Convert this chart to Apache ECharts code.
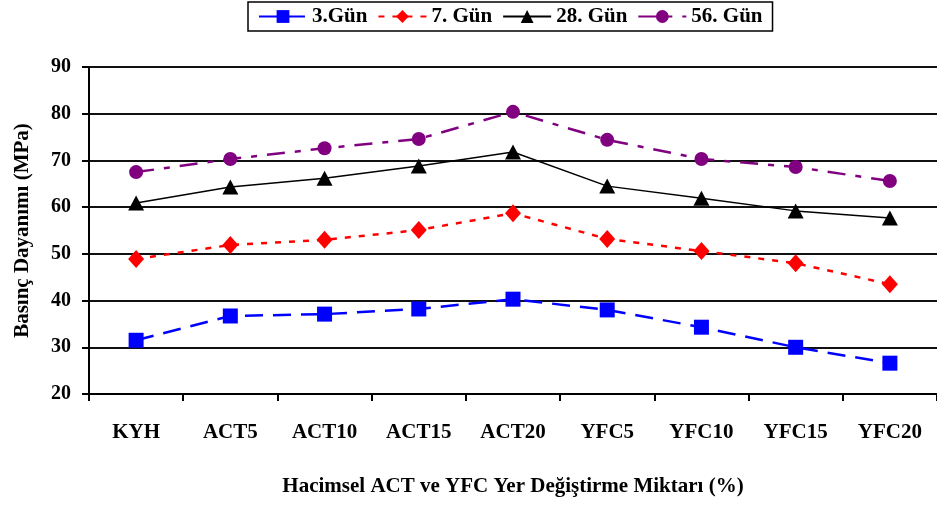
<!DOCTYPE html>
<html><head><meta charset="utf-8">
<script src="https://cdn.jsdelivr.net/npm/echarts@6/dist/echarts.min.js"></script>
<style>html,body{margin:0;padding:0;background:#fff}#c{width:937px;height:505px}</style>
</head><body><div id="c"></div>
<script>
const categories = ['KYH','ACT5','ACT10','ACT15','ACT20','YFC5','YFC10','YFC15','YFC20'];
const seriesNames = ['3.Gün','7. Gün','28. Gün','56. Gün'];
const day3  = [31.5, 36.7, 37.1, 38.2, 40.3, 38.0, 34.3, 30.0, 26.6];
const day7  = [48.9, 51.9, 53.0, 55.1, 58.7, 53.2, 50.6, 48.0, 43.5];
const day28 = [60.9, 64.3, 66.2, 68.8, 71.8, 64.5, 61.9, 59.2, 57.7];
const day56 = [67.5, 70.3, 72.6, 74.6, 80.4, 74.4, 70.3, 68.6, 65.6];
const yTicks = {min: 20, max: 90, interval: 10};

const FONT = '"Liberation Serif", "DejaVu Serif", serif';
const chart = echarts.init(document.getElementById('c'), null, {renderer: 'canvas'});
chart.setOption({
  animation: false,
  backgroundColor: '#fff',
  textStyle: {fontFamily: FONT},
  legend: {
    top: 2, left: 248,
    data: seriesNames,
    borderColor: '#000', borderWidth: 1.5,
    padding: [4, 10, 4, 10],
    itemGap: 10, itemWidth: 48, itemHeight: 16,
    textStyle: {fontFamily: FONT, fontWeight: 'bold', fontSize: 21, color: '#000'}
  },
  grid: {left: 89, top: 67, right: -3, bottom: 111, containLabel: false},
  xAxis: {
    type: 'category', data: categories, boundaryGap: true,
    name: 'Hacimsel ACT ve YFC Yer Değiştirme Miktarı (%)',
    nameLocation: 'middle', nameGap: 82,
    nameTextStyle: {fontFamily: FONT, fontWeight: 'bold', fontSize: 21, color: '#000'},
    axisLine: {lineStyle: {color: '#000', width: 2}},
    axisTick: {show: true, length: 7, lineStyle: {color: '#000', width: 2}},
    axisLabel: {fontFamily: FONT, fontWeight: 'bold', fontSize: 21, color: '#000', margin: 28}
  },
  yAxis: {
    type: 'value', min: yTicks.min, max: yTicks.max, interval: yTicks.interval,
    name: 'Basınç Dayanımı (MPa)',
    nameLocation: 'middle', nameGap: 56, nameRotate: 90,
    nameTextStyle: {fontFamily: FONT, fontWeight: 'bold', fontSize: 21, color: '#000'},
    axisLine: {show: true, lineStyle: {color: '#000', width: 2}},
    axisTick: {show: true, length: 7, lineStyle: {color: '#000', width: 2}},
    axisLabel: {fontFamily: FONT, fontWeight: 'bold', fontSize: 20, color: '#000', margin: 18},
    splitLine: {show: true, lineStyle: {color: '#111', width: 2}}
  },
  series: [
    {name: seriesNames[0], type: 'line', data: day3, symbol: 'rect', symbolSize: 15,
     itemStyle: {color: '#0000ff'}, lineStyle: {color: '#0000ff', width: 2.5, type: [18, 10]}},
    {name: seriesNames[1], type: 'line', data: day7, symbol: 'diamond', symbolSize: [16, 18],
     itemStyle: {color: '#ff0000'}, lineStyle: {color: '#ff0000', width: 2.5, type: [6, 8]}},
    {name: seriesNames[2], type: 'line', data: day28, symbol: 'triangle', symbolSize: [16, 15],
     itemStyle: {color: '#000'}, lineStyle: {color: '#000', width: 1.5, type: 'solid'}},
    {name: seriesNames[3], type: 'line', data: day56, symbol: 'circle', symbolSize: 14,
     itemStyle: {color: '#800080'}, lineStyle: {color: '#800080', width: 2.5, type: [18, 10, 6, 10]}}
  ]
});
</script></body></html>
